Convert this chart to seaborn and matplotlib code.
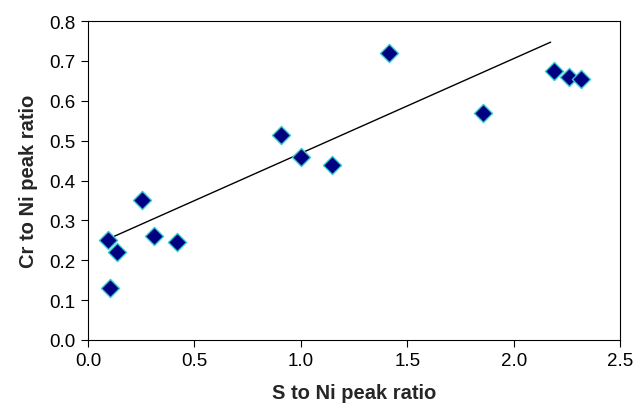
import matplotlib
matplotlib.use("Agg")
import matplotlib.pyplot as plt
import seaborn as sns
import pandas as pd

s_to_ni = [0.094, 0.103, 0.136, 0.254, 0.31, 0.418, 0.907, 1.0, 1.146, 1.414, 1.856, 2.19, 2.26, 2.317]
cr_to_ni = [0.25, 0.13, 0.22, 0.35, 0.26, 0.245, 0.515, 0.46, 0.44, 0.72, 0.57, 0.675, 0.66, 0.655]
trend_x = [0.064, 2.174]
trend_y = [0.246, 0.747]
x_ticks = [0.0, 0.5, 1.0, 1.5, 2.0, 2.5]
y_ticks = [0.0, 0.1, 0.2, 0.3, 0.4, 0.5, 0.6, 0.7, 0.8]

sns.set_style("ticks")
plt.rcParams['font.family'] = ['Liberation Sans', 'DejaVu Sans']

df = pd.DataFrame({"x": s_to_ni, "y": cr_to_ni})
tdf = pd.DataFrame({"x": trend_x, "y": trend_y})

fig = plt.figure(figsize=(6.36, 4.06), dpi=100)
ax = fig.add_axes([0.1384, 0.1601, 0.8365, 0.7857])

sns.lineplot(data=tdf, x="x", y="y", ax=ax, color="black", linewidth=1.0)
sns.scatterplot(data=df, x="x", y="y", ax=ax, marker="D", s=85,
                color="#000080", edgecolor="#33cccc", linewidth=1.0, zorder=3)

ax.set_xlim(0, 2.5)
ax.set_ylim(0, 0.8)
ax.set_xticks(x_ticks)
ax.set_yticks(y_ticks)
ax.set_xticklabels([f"{v:.1f}" for v in x_ticks])
ax.set_yticklabels([f"{v:.1f}" for v in y_ticks])
ax.tick_params(axis="both", direction="out", length=5, width=0.8, labelsize=13.5, colors="black", pad=4)
for sp in ax.spines.values():
    sp.set_visible(True)
    sp.set_color("black")
    sp.set_linewidth(0.8)
ax.set_xlabel("S to Ni peak ratio", fontsize=14.5, fontweight="bold", labelpad=10)
ax.set_ylabel("Cr to Ni peak ratio", fontsize=14.5, fontweight="bold", labelpad=8)

fig.savefig("out.png", dpi=100)
